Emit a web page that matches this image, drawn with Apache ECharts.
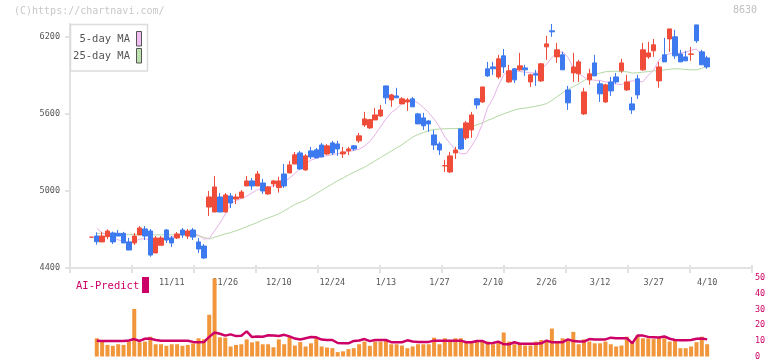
<!DOCTYPE html>
<html><head><meta charset="utf-8">
<script src="https://cdn.jsdelivr.net/npm/echarts@6/dist/echarts.min.js"></script>
<style>html,body{margin:0;padding:0;background:#fff}#c{width:772px;height:361px}</style>
</head><body><div id="c"></div>
<script>
const dates = ['10/20','10/21','10/22','10/25','10/26','10/27','10/28','10/29','11/1','11/2','11/4','11/5','11/8','11/9','11/10','11/11','11/12','11/15','11/16','11/17','11/18','11/19','11/22','11/24','11/25','11/26','11/29','11/30','12/1','12/2','12/3','12/6','12/7','12/8','12/9','12/10','12/13','12/14','12/15','12/16','12/17','12/20','12/21','12/22','12/23','12/24','12/27','12/28','12/29','12/30','1/4','1/5','1/6','1/7','1/12','1/13','1/14','1/17','1/18','1/19','1/20','1/21','1/24','1/25','1/26','1/27','1/28','1/31','2/1','2/2','2/3','2/4','2/7','2/8','2/9','2/10','2/14','2/15','2/16','2/17','2/18','2/21','2/22','2/24','2/25','2/26','2/28','3/1','3/2','3/3','3/4','3/7','3/8','3/9','3/10','3/12','3/14','3/15','3/16','3/17','3/18','3/22','3/23','3/24','3/25','3/27','3/28','3/29','3/30','3/31','4/1','4/4','4/5','4/6','4/7','4/10'];
const tickLabels = ['11/11','11/26','12/10','12/24','1/13','1/27','2/10','2/26','3/12','3/27','4/10'];
const priceTicks = [4400, 5000, 5600, 6200];

const open = [4640,4649,4603,4644,4673,4670,4670,4603,4595,4657,4704,4688,4517,4577,4696,4634,4634,4696,4649,4696,4603,4571,4875,4836,4953,4836,4961,4937,4945,5039,5078,5039,5062,4977,5055,5026,5132,5140,5210,5296,5164,5312,5320,5358,5288,5374,5366,5288,5312,5351,5390,5514,5491,5553,5584,5818,5709,5740,5678,5693,5717,5600,5569,5545,5436,5366,5195,5148,5296,5483,5413,5475,5717,5693,5951,5966,5888,6052,5849,5951,5943,5958,5849,5912,5857,6122,6247,6044,6060,5787,5919,5912,5600,5865,5997,5834,5693,5849,5888,5935,5787,5678,5873,5943,6044,6091,5857,6060,6184,6200,6067,6044,6064,6293,6083,6036];
const close = [4640,4605,4649,4688,4603,4649,4595,4540,4649,4712,4649,4501,4634,4634,4618,4595,4665,4657,4688,4641,4548,4478,4953,5031,4836,4969,4906,4953,4992,5078,5039,5132,5000,5031,5078,5078,5039,5203,5281,5171,5273,5265,5257,5265,5351,5296,5327,5304,5327,5327,5429,5561,5555,5592,5631,5725,5748,5725,5717,5709,5655,5522,5507,5522,5358,5319,5197,5273,5319,5327,5530,5592,5670,5810,5896,5951,6029,5966,5935,5865,5974,5943,5904,5902,5990,6145,6239,6099,5943,5686,5966,6005,5771,5912,5896,5756,5826,5779,5849,5997,5849,5631,5748,6099,6075,6138,5966,6005,6262,6052,6005,6013,6067,6169,5982,5966];
const low = [4640,4582,4603,4624,4587,4649,4595,4540,4580,4657,4618,4488,4517,4577,4595,4564,4626,4634,4626,4618,4517,4470,4805,4836,4836,4836,4867,4898,4945,5039,5008,5039,4977,4969,5031,4987,5023,5140,5210,5164,5156,5249,5257,5265,5280,5280,5273,5257,5280,5312,5374,5499,5483,5553,5577,5678,5655,5725,5678,5623,5655,5522,5475,5460,5319,5280,5148,5140,5249,5319,5397,5413,5639,5686,5888,5904,5873,5919,5841,5841,5935,5896,5810,5818,5849,6021,6200,5997,5943,5631,5849,5849,5592,5826,5896,5693,5686,5740,5834,5919,5779,5600,5717,5935,6029,6044,5803,6005,6083,6029,6005,6013,6013,6153,5982,5951];
const high = [4640,4678,4681,4701,4683,4696,4681,4634,4673,4727,4727,4704,4649,4649,4704,4649,4680,4712,4704,4712,4634,4587,5000,5117,4984,4984,4984,4977,5008,5117,5101,5156,5094,5039,5086,5111,5210,5234,5304,5312,5288,5343,5335,5374,5366,5390,5390,5343,5343,5358,5452,5616,5561,5647,5670,5818,5756,5803,5732,5725,5732,5608,5608,5553,5475,5382,5242,5304,5343,5483,5545,5616,5725,5810,6005,6005,6060,6106,5982,5958,6075,5982,5912,5943,5997,6208,6300,6153,6083,5818,6075,6021,5803,5951,6060,5857,5834,5888,5919,6029,5904,5732,5904,6153,6161,6184,6005,6192,6262,6254,6099,6091,6122,6293,6099,6052];

const ma5 = [null,4709,4675,4655,4639,4620,4606,4600,4605,4625,4628,4618,4620,4625,4635,4642,4650,4668,4672,4670,4655,4625,4630,4690,4750,4820,4900,4925,4940,4960,4985,5010,5020,5030,5040,5050,5070,5100,5135,5175,5210,5240,5255,5265,5275,5282,5290,5300,5308,5315,5325,5350,5385,5440,5500,5560,5610,5640,5680,5700,5705,5685,5650,5610,5560,5500,5420,5370,5320,5290,5290,5350,5420,5520,5650,5720,5820,5905,5940,5935,5930,5925,5920,5918,5950,5985,6040,6075,6085,6040,5960,5915,5885,5868,5862,5860,5850,5840,5832,5828,5845,5858,5852,5850,5900,5940,6020,6055,6068,6072,6074,6080,6095,6105,6060,6025];
const ma25 = [null,4668,4668,4668,4668,4662,4662,4662,4662,4662,4662,4658,4658,4658,4658,4658,4658,4658,4658,4658,4650,4640,4626,4640,4652,4665,4676,4690,4705,4722,4738,4754,4775,4790,4805,4822,4845,4870,4895,4912,4930,4955,4980,5005,5030,5055,5080,5100,5125,5145,5165,5185,5210,5235,5260,5285,5310,5335,5360,5390,5420,5440,5455,5470,5478,5482,5484,5485,5486,5487,5490,5500,5515,5530,5550,5565,5585,5600,5615,5630,5640,5645,5652,5660,5668,5680,5705,5735,5765,5790,5812,5835,5860,5885,5905,5918,5928,5932,5932,5930,5928,5918,5920,5925,5930,5935,5938,5942,5948,5951,5950,5946,5943,5943,5955,5970];
const volume = [null,11.6,10.5,7.4,6.8,7.8,7.4,9.5,30.3,9.1,9.5,12.6,7.8,7.8,6.8,7.8,7.8,6.8,7.4,8.4,11.6,10.9,26.6,49.7,12.2,12,6.4,7.4,7.8,10.9,9,9.7,7.8,7.8,5.9,10.9,7.8,12.6,7,9.2,6.4,8.4,12,6.4,5.7,5.3,2.8,3.3,4.7,5.3,7.8,9.5,6.8,9.5,9.5,10,7.8,7.8,7,5.3,6.4,7.8,7.8,7.8,12,7.8,11.6,9.9,11.6,11.6,9.5,9.5,9.9,9.5,9.5,7.8,9.5,15.3,9.5,7.8,8.4,7,7,9.5,10.5,9.5,17.8,9.9,11.6,10.5,15.7,7.8,10.9,9.5,8.4,8.4,9.5,7.8,6.4,7,12.6,9.1,13.6,11.6,11.6,11.1,12,11.6,9.5,9.9,5.3,5.3,6.4,9.1,12.6,7.8];
const aiPredict = [null,10.1,9.9,9.8,9.8,9.8,9.8,10.2,11.1,9.9,11.3,11.4,10.5,10,10,10,10,10,10,9.3,9,9.2,12.5,15.3,14.5,13.3,14.1,13,13.2,16,12.4,12.8,12.6,13.5,13.3,13.1,13.8,12.8,11.4,10.8,11.6,12.4,12.2,10.8,10.5,10.5,8.6,8.4,8.4,9.9,10.2,11.1,9.8,10.5,10.5,10.5,9.1,9.1,9.1,10.3,9.6,9.3,9.3,9.3,10.1,10.1,10.1,10.1,10.1,10.1,9.1,9.1,9.9,9.9,8.4,8.6,9.5,7.8,7.8,9.1,8.1,8.1,8.1,8.1,8.4,10.1,9.1,9.1,9.1,10.9,9.8,9.5,9.5,11.1,10.9,10.9,10.9,12,11.6,11.6,11.6,8.5,13.3,13.3,12.5,12.3,12.1,12.8,11.3,10.5,10.3,10.3,10.5,11.3,11.4,10.9];

const LEAD = 4, TRAIL = 8;
const cats = [];
for (let k = 0; k < LEAD; k++) cats.push('_a' + k);
dates.forEach(d => cats.push(d));
for (let k = 0; k < TRAIL; k++) cats.push('_b' + k);

const RED = '#ef4d3a', BLUE = '#3d79ef', PINK = '#e8b2e8', GREEN = '#b3d9a3';
const ORANGE = '#f2963c', CRIMSON = '#cc0066', AXIS = '#e2e2e2';
const MONO = '"DejaVu Sans Mono", "Liberation Mono", monospace';

const candleData = dates.map((d, i) => [LEAD + i, open[i], close[i], low[i], high[i]]);
const pairs = arr => arr.map((v, i) => [LEAD + i, v]).filter(p => p[1] !== null);

const chart = echarts.init(document.getElementById('c'), null, {renderer: 'canvas'});
chart.setOption({
  animation: false,
  backgroundColor: '#fff',
  grid: [
    {left: 70, top: 24, width: 680, height: 244},
    {left: 70, top: 278, width: 680, height: 80},
    {left: 70, top: 24, width: 682, height: 244}
  ],
  xAxis: [
    {type: 'category', gridIndex: 0, data: cats, boundaryGap: false,
     axisLine: {show: false}, axisTick: {show: false}, splitLine: {show: false},
     axisLabel: {interval: (idx, val) => tickLabels.includes(val), margin: 10,
       fontSize: 8.5, color: '#555', fontFamily: MONO}},
    {type: 'category', gridIndex: 1, data: cats, boundaryGap: false, show: false},
    {type: 'value', gridIndex: 2, min: 0, max: 11, interval: 1, position: 'bottom',
     axisLine: {show: true, lineStyle: {color: AXIS, width: 2}},
     axisTick: {show: true, length: 5, lineStyle: {color: AXIS, width: 2}},
     axisLabel: {show: false}, splitLine: {show: false}},
    {type: 'value', gridIndex: 2, min: 0, max: 11, interval: 1, position: 'bottom', offset: 0,
     axisLine: {show: false},
     axisTick: {show: true, inside: true, length: 3, lineStyle: {color: AXIS, width: 2}},
     axisLabel: {show: false}, splitLine: {show: false}}
  ],
  yAxis: [
    {type: 'value', gridIndex: 0, min: 4400, max: 6300, interval: 600,
     axisLine: {show: true, lineStyle: {color: AXIS, width: 2}},
     axisTick: {show: true, length: 5, customValues: priceTicks, lineStyle: {color: AXIS, width: 2}},
     axisLabel: {customValues: priceTicks, margin: 10, fontSize: 8.5, color: '#555', fontFamily: MONO,
       formatter: v => String(v)},
     splitLine: {show: false}},
    {type: 'value', gridIndex: 1, min: 0, max: 50, interval: 10, position: 'right',
     axisLine: {show: false}, axisTick: {show: false}, splitLine: {show: false},
     axisLabel: {margin: 5, fontSize: 8.5, color: CRIMSON, fontFamily: MONO}},
    {type: 'value', gridIndex: 2, min: 0, max: 1, show: false}
  ],
  series: [
    {name: '25-day MA', type: 'line', xAxisIndex: 0, yAxisIndex: 0, data: pairs(ma25),
     showSymbol: false, lineStyle: {color: GREEN, width: 1}, z: 1},
    {name: '5-day MA', type: 'line', xAxisIndex: 0, yAxisIndex: 0, data: pairs(ma5),
     showSymbol: false, lineStyle: {color: PINK, width: 1}, z: 1},
    {name: 'price', type: 'candlestick', xAxisIndex: 0, yAxisIndex: 0, data: candleData,
     encode: {x: 0, y: [1, 2, 3, 4]}, barWidth: 5, z: 2,
     itemStyle: {color: RED, color0: BLUE, borderColor: RED, borderColor0: BLUE, borderWidth: 1}},
    {name: 'volume', type: 'bar', xAxisIndex: 1, yAxisIndex: 1, data: pairs(volume),
     barWidth: 4, itemStyle: {color: ORANGE}, z: 3},
    {name: 'AI-Predict', type: 'line', xAxisIndex: 1, yAxisIndex: 1, data: pairs(aiPredict),
     showSymbol: false, lineStyle: {color: CRIMSON, width: 2.5}, z: 4}
  ],
  graphic: [
    {type: 'text', left: 14, top: 6, z: 10,
     style: {text: '(C)https://chartnavi.com/', font: '10px ' + MONO, fill: '#c8c8c8'}},
    {type: 'text', right: 15, top: 5, z: 10,
     style: {text: '8630', font: '10px ' + MONO, fill: '#c0c0c0'}},
    {type: 'rect', z: 20, shape: {x: 70.5, y: 24.5, width: 77, height: 46.5},
     style: {fill: '#fff', stroke: '#dcdcdc', lineWidth: 1.5}},
    {type: 'text', z: 21, x: 130, y: 39.5,
     style: {text: '5-day MA', font: '10.5px ' + MONO, fill: '#555', textAlign: 'right', textVerticalAlign: 'middle'}},
    {type: 'rect', z: 21, shape: {x: 136.5, y: 31.5, width: 5, height: 14.5},
     style: {fill: '#f0bef0', stroke: '#555', lineWidth: 1}},
    {type: 'text', z: 21, x: 130, y: 56.5,
     style: {text: '25-day MA', font: '10.5px ' + MONO, fill: '#555', textAlign: 'right', textVerticalAlign: 'middle'}},
    {type: 'rect', z: 21, shape: {x: 136.5, y: 48.5, width: 5, height: 14.5},
     style: {fill: '#bfe0af', stroke: '#555', lineWidth: 1}},
    {type: 'text', z: 21, x: 76, y: 286,
     style: {text: 'AI-Predict', font: '10.5px ' + MONO, fill: CRIMSON, textAlign: 'left', textVerticalAlign: 'middle'}},
    {type: 'rect', z: 21, shape: {x: 142, y: 277, width: 7, height: 16},
     style: {fill: CRIMSON}}
  ]
});
</script></body></html>
